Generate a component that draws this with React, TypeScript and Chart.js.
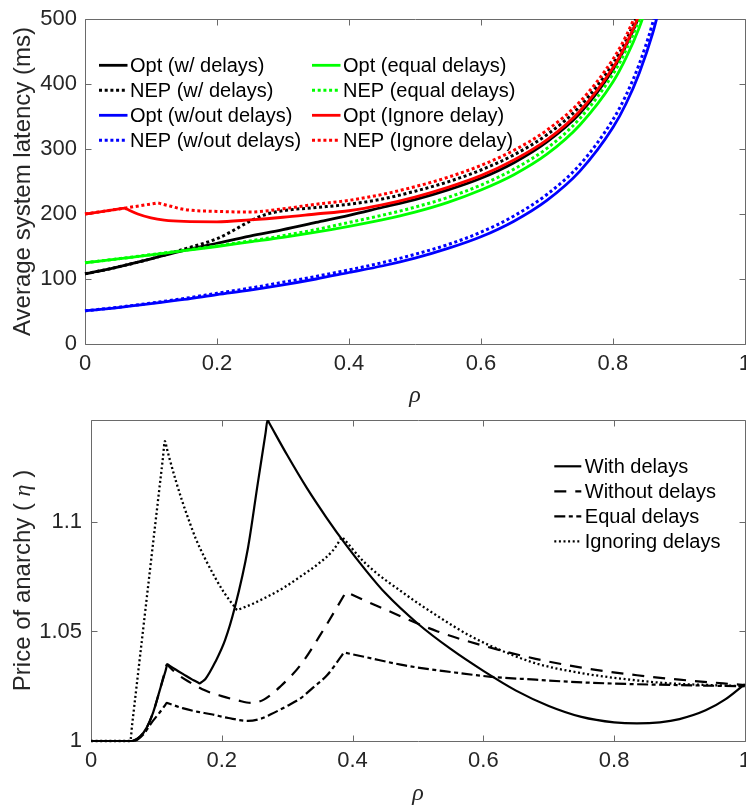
import React, { useEffect, useRef } from 'react';
import { Chart, registerables } from 'chart.js';

Chart.register(...registerables);

const SANS = "'Liberation Sans', Arial, Helvetica, sans-serif";
const SERIF = "'Liberation Serif', 'DejaVu Serif', serif";

// ================= Top chart: average system latency =================
const latencyXTicks = [0, 0.2, 0.4, 0.6, 0.8, 1];
const latencyXTickLabels = ['0', '0.2', '0.4', '0.6', '0.8', '1'];
const latencyYTicks = [0, 100, 200, 300, 400, 500];
const latencyYTickLabels = ['0', '100', '200', '300', '400', '500'];

const optWithRho = [0, 0.03, 0.06, 0.1, 0.15, 0.2, 0.25, 0.3, 0.35, 0.4, 0.45, 0.5, 0.55, 0.6, 0.65, 0.7, 0.75, 0.8, 0.82, 0.84, 0.86];
const optWithVal = [108, 114, 121, 131, 144, 155, 166, 176, 187, 198, 210, 222, 237, 255, 279, 311, 355, 422, 459, 505, 565];

const nepWithRho = [0, 0.03, 0.06, 0.1, 0.15, 0.2, 0.22, 0.25, 0.27, 0.3, 0.35, 0.4, 0.45, 0.5, 0.55, 0.6, 0.65, 0.7, 0.75, 0.8, 0.82, 0.84];
const nepWithVal = [108, 114, 121, 131, 146, 162, 172, 189, 198, 205, 210, 215, 223, 235, 249.5, 267.7, 291, 322, 365.6, 431, 467, 512.5];

const optWithoutRho = [0, 0.05, 0.1, 0.15, 0.2, 0.25, 0.3, 0.35, 0.4, 0.45, 0.5, 0.55, 0.6, 0.65, 0.7, 0.75, 0.8, 0.82, 0.84, 0.86, 0.88];
const optWithoutVal = [51, 56, 62, 68.5, 76, 83, 91, 100, 110, 120, 132, 147, 165, 189, 221, 266, 333, 370, 417, 477, 556];

const nepWithoutRho = [0, 0.05, 0.1, 0.15, 0.2, 0.25, 0.3, 0.35, 0.4, 0.45, 0.5, 0.55, 0.6, 0.65, 0.7, 0.75, 0.8, 0.82, 0.84, 0.86, 0.88];
const nepWithoutVal = [51, 56.5, 63, 70, 78, 86, 95, 104, 114, 125, 138, 153, 172, 197, 230, 276, 345, 383, 431, 493, 575];

const optEqualRho = [0, 0.05, 0.1, 0.15, 0.2, 0.25, 0.3, 0.35, 0.4, 0.45, 0.5, 0.55, 0.6, 0.65, 0.7, 0.75, 0.8, 0.82, 0.84, 0.86];
const optEqualVal = [125, 131, 137, 143.5, 150, 157, 164, 172, 181, 191, 203, 218, 237, 260.5, 292, 337, 403, 440.5, 487, 546];

const nepEqualRho = [0, 0.05, 0.1, 0.15, 0.2, 0.25, 0.3, 0.35, 0.4, 0.45, 0.5, 0.55, 0.6, 0.65, 0.7, 0.75, 0.8, 0.82, 0.84, 0.86];
const nepEqualVal = [125, 131, 137.5, 144, 151, 158.5, 166.5, 176, 187, 198, 210.5, 225.5, 244.5, 269, 301, 347, 415, 452.5, 500, 561];

const optIgnoreRho = [0, 0.03, 0.057, 0.06, 0.063, 0.08, 0.1, 0.12, 0.15, 0.2, 0.25, 0.3, 0.35, 0.4, 0.45, 0.5, 0.55, 0.6, 0.65, 0.7, 0.75, 0.8, 0.82, 0.84, 0.86];
const optIgnoreVal = [200, 204.5, 208.5, 209, 207.6, 200, 194, 190.5, 188.5, 188, 191, 195, 200, 205, 214, 226, 241, 259, 283, 314, 358.5, 425, 461.5, 507.5, 567];

const nepIgnoreRho = [0, 0.03, 0.06, 0.085, 0.105, 0.11, 0.115, 0.13, 0.15, 0.2, 0.25, 0.3, 0.35, 0.4, 0.45, 0.5, 0.55, 0.6, 0.65, 0.7, 0.75, 0.8, 0.82, 0.84];
const nepIgnoreVal = [200, 204.5, 209, 213, 216.2, 217, 215.8, 212, 207, 204, 203, 208, 215, 221, 230, 242, 256.5, 274.7, 298, 329, 372.6, 438, 474, 519.5];

// ================= Bottom chart: price of anarchy =================
const poaXTicks = [0, 0.2, 0.4, 0.6, 0.8, 1];
const poaXTickLabels = ['0', '0.2', '0.4', '0.6', '0.8', '1'];
const poaYTicks = [1, 1.05, 1.1];
const poaYTickLabels = ['1', '1.05', '1.1'];

const withDelaysRho = [0, 0.062, 0.075, 0.085, 0.095, 0.105, 0.114, 0.117, 0.12, 0.13, 0.141, 0.155, 0.163, 0.166, 0.169, 0.175, 0.19, 0.205, 0.22, 0.24, 0.255, 0.267, 0.27, 0.273, 0.3, 0.33, 0.36, 0.39, 0.42, 0.45, 0.5, 0.55, 0.6, 0.65, 0.7, 0.75, 0.8, 0.835, 0.87, 0.9, 0.94, 0.97, 1.0];
const withDelaysVal = [1, 1, 1.002, 1.006, 1.013, 1.023, 1.032, 1.035, 1.0344, 1.0325, 1.0305, 1.028, 1.0268, 1.0263, 1.0269, 1.0283, 1.036, 1.046, 1.061, 1.088, 1.1175, 1.1406, 1.1465, 1.1449, 1.1305, 1.1155, 1.102, 1.0895, 1.078, 1.0675, 1.0535, 1.042, 1.032, 1.023, 1.016, 1.011, 1.0085, 1.008, 1.0085, 1.01, 1.014, 1.019, 1.026];

const withoutDelaysRho = [0, 0.062, 0.075, 0.085, 0.095, 0.105, 0.113, 0.116, 0.119, 0.13, 0.15, 0.175, 0.2, 0.225, 0.245, 0.265, 0.29, 0.32, 0.356, 0.387, 0.39, 0.393, 0.45, 0.53, 0.6, 0.68, 0.75, 0.835, 0.9, 1.0];
const withoutDelaysVal = [1, 1, 1.002, 1.006, 1.013, 1.023, 1.0317, 1.035, 1.0341, 1.031, 1.027, 1.023, 1.0205, 1.0185, 1.0174, 1.019, 1.025, 1.0345, 1.051, 1.0665, 1.068, 1.0676, 1.06, 1.05, 1.0435, 1.0375, 1.0335, 1.03, 1.028, 1.0255];

const equalDelaysRho = [0, 0.065, 0.08, 0.093, 0.105, 0.113, 0.116, 0.119, 0.14, 0.16, 0.184, 0.21, 0.24, 0.26, 0.275, 0.3, 0.321, 0.34, 0.361, 0.384, 0.387, 0.39, 0.42, 0.48, 0.55, 0.612, 0.68, 0.734, 0.8, 0.9, 1.0];
const equalDelaysVal = [1, 1, 1.003, 1.0085, 1.013, 1.0162, 1.0174, 1.0171, 1.015, 1.0135, 1.0122, 1.0105, 1.0092, 1.0102, 1.0122, 1.016, 1.0196, 1.0245, 1.03, 1.0392, 1.0404, 1.0402, 1.0383, 1.0345, 1.0315, 1.0293, 1.028, 1.027, 1.0262, 1.0255, 1.025];

const ignoringDelaysRho = [0, 0.06, 0.063, 0.11, 0.113, 0.116, 0.12, 0.13, 0.14, 0.15, 0.16, 0.174, 0.19, 0.204, 0.215, 0.221, 0.224, 0.227, 0.25, 0.295, 0.32, 0.346, 0.37, 0.381, 0.384, 0.387, 0.42, 0.48, 0.53, 0.581, 0.63, 0.683, 0.75, 0.809, 0.885, 0.95, 1.0];
const ignoringDelaysVal = [1, 1, 1.0077, 1.1292, 1.1369, 1.1335, 1.129, 1.1185, 1.109, 1.1005, 1.0925, 1.0835, 1.0745, 1.0675, 1.063, 1.0607, 1.0597, 1.0601, 1.063, 1.07, 1.075, 1.0805, 1.087, 1.0918, 1.0931, 1.0921, 1.081, 1.0671, 1.057, 1.0478, 1.041, 1.0352, 1.031, 1.0285, 1.0263, 1.0255, 1.025];

// ================= helpers =================
type Series = { label: string; rho: number[]; val: number[]; color: string; dash: number[]; width: number };

function makeDatasets(series: Series[]) {
  const n = series.length;
  return series.map((s, i) => ({
    label: s.label,
    data: s.rho.map((x, k) => ({ x, y: s.val[k] })),
    borderColor: s.color,
    backgroundColor: s.color,
    borderDash: s.dash,
    borderWidth: s.width,
    pointRadius: 0,
    fill: false,
    tension: 0.4,
    cubicInterpolationMode: 'monotone',
    clip: { left: 4, right: 4, top: 0, bottom: 4 },
    order: n - i,
  }));
}

const matlabAxes = {
  id: 'matlabAxes',
  beforeDatasetsDraw(chart: any, _args: any, opts: any) {
    const { ctx, chartArea: a, scales } = chart;
    const L = Math.round(a.left) + 0.5;
    const R = Math.round(a.right) + 0.5;
    const T = Math.round(a.top) + 0.5;
    const B = Math.round(a.bottom) + 0.5;
    ctx.save();
    ctx.strokeStyle = opts.color;
    ctx.lineWidth = 1;
    ctx.setLineDash([]);
    ctx.beginPath();
    ctx.rect(L, T, R - L, B - T);
    const tl = opts.tickLength;
    scales.x.ticks.forEach((t: any) => {
      const px = Math.round(scales.x.getPixelForValue(t.value)) + 0.5;
      ctx.moveTo(px, B);
      ctx.lineTo(px, B - tl);
      ctx.moveTo(px, T);
      ctx.lineTo(px, T + tl);
    });
    scales.y.ticks.forEach((t: any) => {
      const py = Math.round(scales.y.getPixelForValue(t.value)) + 0.5;
      ctx.moveTo(L, py);
      ctx.lineTo(L + tl, py);
      ctx.moveTo(R, py);
      ctx.lineTo(R - tl, py);
    });
    ctx.stroke();
    ctx.restore();
  },
};

const axisTitles = {
  id: 'axisTitles',
  afterDraw(chart: any, _args: any, opts: any) {
    const { ctx, chartArea: a } = chart;
    ctx.save();
    ctx.fillStyle = opts.color;
    ctx.textAlign = 'center';
    ctx.textBaseline = 'alphabetic';
    ctx.font = opts.xFont;
    ctx.fillText(opts.xText, (a.left + a.right) / 2, a.bottom + opts.xOffset);
    ctx.restore();

    ctx.save();
    ctx.fillStyle = opts.color;
    ctx.textAlign = 'left';
    ctx.textBaseline = 'alphabetic';
    const pieces: { text: string; font: string }[] = opts.yPieces;
    let total = 0;
    const widths = pieces.map((p) => {
      ctx.font = p.font;
      const w = ctx.measureText(p.text).width;
      total += w;
      return w;
    });
    ctx.translate(opts.yX, (a.top + a.bottom) / 2);
    ctx.rotate(-Math.PI / 2);
    let u = -total / 2;
    pieces.forEach((p, i) => {
      ctx.font = p.font;
      ctx.fillText(p.text, u, opts.yBaseShift);
      u += widths[i];
    });
    ctx.restore();
  },
};

const matlabLegend = {
  id: 'matlabLegend',
  afterDatasetsDraw(chart: any, _args: any, opts: any) {
    const { ctx, chartArea: a } = chart;
    const ds = chart.data.datasets;
    ctx.save();
    ds.forEach((d: any, i: number) => {
      const col = Math.floor(i / opts.rows);
      const row = i % opts.rows;
      const x = a.left + opts.cols[col];
      const y = a.top + opts.rowY[row];
      ctx.beginPath();
      ctx.strokeStyle = d.borderColor;
      ctx.lineWidth = d.borderWidth;
      ctx.setLineDash(d.borderDash || []);
      ctx.moveTo(x, y);
      ctx.lineTo(x + opts.sample, y);
      ctx.stroke();
      ctx.setLineDash([]);
      ctx.fillStyle = opts.color;
      ctx.font = opts.font;
      ctx.textAlign = 'left';
      ctx.textBaseline = 'middle';
      ctx.fillText(d.label, x + opts.sample + opts.gap, y + 1);
    });
    ctx.restore();
  },
};

type Frame = {
  yWidth: number; xHeight: number;
  xMin: number; xMax: number; yMin: number; yMax: number;
  xTicks: number[]; xLabels: string[]; yTicks: number[]; yLabels: string[];
  xPad: number; yPad: number;
};

function makeScales(f: Frame) {
  const tickFont = { family: SANS, size: 22, lineHeight: 1 };
  return {
    x: {
      type: 'linear',
      min: f.xMin,
      max: f.xMax,
      grid: { display: false, drawTicks: false },
      border: { display: false },
      afterBuildTicks: (s: any) => { s.ticks = f.xTicks.map((v) => ({ value: v })); },
      afterFit: (s: any) => { s.height = f.xHeight; },
      ticks: {
        font: tickFont,
        color: '#262626',
        padding: f.xPad,
        autoSkip: false,
        maxRotation: 0,
        callback: (v: any) => {
          const k = f.xTicks.findIndex((t) => Math.abs(t - Number(v)) < 1e-9);
          return k >= 0 ? f.xLabels[k] : '';
        },
      },
    },
    y: {
      type: 'linear',
      min: f.yMin,
      max: f.yMax,
      grid: { display: false, drawTicks: false },
      border: { display: false },
      afterBuildTicks: (s: any) => { s.ticks = f.yTicks.map((v) => ({ value: v })); },
      afterFit: (s: any) => { s.width = f.yWidth; },
      ticks: {
        font: tickFont,
        color: '#262626',
        padding: f.yPad,
        autoSkip: false,
        callback: (v: any) => {
          const k = f.yTicks.findIndex((t) => Math.abs(t - Number(v)) < 1e-9);
          return k >= 0 ? f.yLabels[k] : '';
        },
      },
    },
  };
}

function topConfig(): any {
  const dotted = [3, 2.7];
  const series: Series[] = [
    { label: 'Opt (w/ delays)', rho: optWithRho, val: optWithVal, color: '#000000', dash: [], width: 2.8 },
    { label: 'NEP (w/ delays)', rho: nepWithRho, val: nepWithVal, color: '#000000', dash: dotted, width: 3 },
    { label: 'Opt (w/out delays)', rho: optWithoutRho, val: optWithoutVal, color: '#0000ff', dash: [], width: 2.8 },
    { label: 'NEP (w/out delays)', rho: nepWithoutRho, val: nepWithoutVal, color: '#0000ff', dash: dotted, width: 3 },
    { label: 'Opt (equal delays)', rho: optEqualRho, val: optEqualVal, color: '#00ff00', dash: [], width: 2.8 },
    { label: 'NEP (equal delays)', rho: nepEqualRho, val: nepEqualVal, color: '#00ff00', dash: dotted, width: 3 },
    { label: 'Opt (Ignore delay)', rho: optIgnoreRho, val: optIgnoreVal, color: '#ff0000', dash: [], width: 2.8 },
    { label: 'NEP (Ignore delay)', rho: nepIgnoreRho, val: nepIgnoreVal, color: '#ff0000', dash: dotted, width: 3 },
  ];
  return {
    type: 'line',
    data: { datasets: makeDatasets(series) },
    plugins: [matlabAxes, matlabLegend, axisTitles],
    options: {
      responsive: false,
      maintainAspectRatio: false,
      animation: false,
      layout: { padding: { left: 0, top: 12, right: 12, bottom: 0 } },
      plugins: {
        legend: { display: false },
        tooltip: { enabled: false },
        matlabAxes: { color: '#6a6a6a', tickLength: 6 },
        matlabLegend: { rows: 4, cols: [14, 227], rowY: [46.3, 71.3, 96.3, 121.3], sample: 28.5, gap: 2.5, font: `20px ${SANS}`, color: '#000000' },
        axisTitles: {
          color: '#262626',
          xText: 'ρ', xFont: `italic 24px ${SERIF}`, xOffset: 57.5,
          yX: 23, yBaseShift: 7,
          yPieces: [{ text: 'Average system latency (ms)', font: `24px ${SANS}` }],
        },
      },
      scales: makeScales({
        yWidth: 85, xHeight: 68,
        xMin: 0, xMax: 1, yMin: 0, yMax: 500,
        xTicks: latencyXTicks, xLabels: latencyXTickLabels,
        yTicks: latencyYTicks, yLabels: latencyYTickLabels,
        xPad: 9, yPad: 8,
      }),
    },
  };
}

function bottomConfig(): any {
  const series: Series[] = [
    { label: 'With delays', rho: withDelaysRho, val: withDelaysVal, color: '#000000', dash: [], width: 2.2 },
    { label: 'Without delays', rho: withoutDelaysRho, val: withoutDelaysVal, color: '#000000', dash: [12, 9], width: 2.2 },
    { label: 'Equal delays', rho: equalDelaysRho, val: equalDelaysVal, color: '#000000', dash: [11, 3.5, 4, 3.5], width: 2.2 },
    { label: 'Ignoring delays', rho: ignoringDelaysRho, val: ignoringDelaysVal, color: '#000000', dash: [2, 2.6], width: 2.3 },
  ];
  return {
    type: 'line',
    data: { datasets: makeDatasets(series) },
    plugins: [matlabAxes, matlabLegend, axisTitles],
    options: {
      responsive: false,
      maintainAspectRatio: false,
      animation: false,
      layout: { padding: { left: 0, top: 12, right: 11, bottom: 0 } },
      plugins: {
        legend: { display: false },
        tooltip: { enabled: false },
        matlabAxes: { color: '#6a6a6a', tickLength: 6 },
        matlabLegend: { rows: 4, cols: [463.3], rowY: [46.3, 71.3, 96.3, 121.3], sample: 27, gap: 3.5, font: `20px ${SANS}`, color: '#000000' },
        axisTitles: {
          color: '#262626',
          xText: 'ρ', xFont: `italic 24px ${SERIF}`, xOffset: 58.5,
          yX: 23, yBaseShift: 7,
          yPieces: [
            { text: 'Price of anarchy ( ', font: `24px ${SANS}` },
            { text: 'η', font: `italic 24px ${SERIF}` },
            { text: ' )', font: `24px ${SANS}` },
          ],
        },
      },
      scales: makeScales({
        yWidth: 91, xHeight: 67,
        xMin: 0, xMax: 1, yMin: 1, yMax: 1.1465,
        xTicks: poaXTicks, xLabels: poaXTickLabels,
        yTicks: poaYTicks, yLabels: poaYTickLabels,
        xPad: 9, yPad: 9,
      }),
    },
  };
}

function ChartCanvas({ makeConfig, width, height, top }: { makeConfig: () => any; width: number; height: number; top: number }) {
  const ref = useRef<HTMLCanvasElement | null>(null);
  useEffect(() => {
    if (!ref.current) return;
    const chart = new Chart(ref.current, makeConfig());
    return () => chart.destroy();
  }, []);
  return (
    <canvas
      ref={ref}
      width={width}
      height={height}
      style={{ position: 'absolute', left: 0, top, width, height, display: 'block' }}
    />
  );
}

export default function App() {
  return (
    <div style={{ position: 'absolute', left: 0, top: 0, width: 746, height: 808, overflow: 'hidden', background: '#ffffff' }}>
      <ChartCanvas makeConfig={topConfig} width={760} height={412} top={0} />
      <ChartCanvas makeConfig={bottomConfig} width={760} height={408} top={400} />
    </div>
  );
}
